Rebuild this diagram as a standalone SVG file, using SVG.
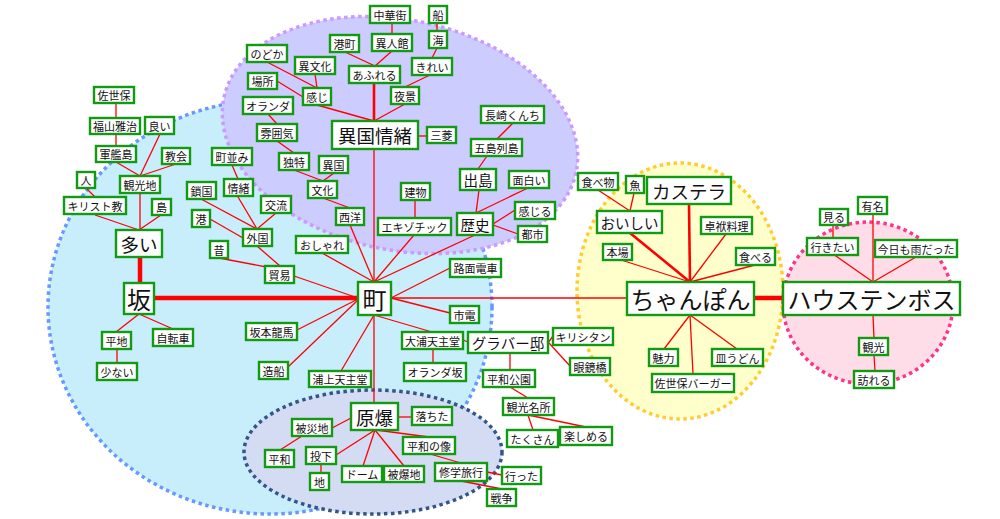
<svg xmlns="http://www.w3.org/2000/svg" width="1000" height="519" viewBox="0 0 1000 519">
<style>
.bg{stroke-width:3.5;stroke-dasharray:3.5 3.5}
.e{stroke:#ff0000;stroke-width:1.3;fill:none}
.e2{stroke:#ff0000;stroke-width:2.6;fill:none}
.e4{stroke:#ff0000;stroke-width:4.5;fill:none}
.b{fill:#ffffff;stroke:#129a12;stroke-width:2.4}
text{font-family:"Noto Sans CJK JP","Noto Sans",sans-serif;fill:#111;text-anchor:middle;dominant-baseline:central}
.s{font-size:11px}
.m1{font-size:14.5px}
.m2{font-size:18.5px}
.l{font-size:24px}
</style>
<rect width="1000" height="519" fill="#ffffff"/>
<g id="areas">
<ellipse cx="270" cy="307" rx="222" ry="207" fill="#c8eefc" stroke="#6699ff" class="bg"/>
<ellipse cx="400" cy="135" rx="180" ry="115" transform="rotate(12 400 135)" fill="#ccccff" stroke="#cc99ff" class="bg"/>
<ellipse cx="373" cy="452" rx="129" ry="62" fill="#d4dcf4" stroke="#335588" class="bg"/>
<ellipse cx="680" cy="291" rx="103" ry="128" fill="#ffffcc" stroke="#ffcc33" class="bg"/>
<ellipse cx="868" cy="303" rx="85" ry="81" fill="#ffdde8" stroke="#ff3388" class="bg"/>
</g>
<g id="connectors">
<line class="e4" x1="140" y1="257" x2="140" y2="283"/>
<line class="e4" x1="154" y1="298" x2="358" y2="298"/>
<line class="e4" x1="754" y1="298" x2="783" y2="298"/>
<line class="e2" x1="374" y1="83" x2="374" y2="121"/>
<line class="e2" x1="689" y1="204" x2="690" y2="282"/>
<line class="e2" x1="630" y1="233" x2="690" y2="282"/>
<line class="e" x1="116" y1="103" x2="116" y2="118"/>
<line class="e" x1="116" y1="134" x2="116" y2="146"/>
<line class="e" x1="116" y1="162" x2="140" y2="176"/>
<line class="e" x1="160" y1="134" x2="140" y2="176"/>
<line class="e" x1="176" y1="164" x2="140" y2="176"/>
<line class="e" x1="140" y1="193" x2="140" y2="230"/>
<line class="e" x1="86" y1="188" x2="95" y2="197"/>
<line class="e" x1="95" y1="215" x2="139" y2="230"/>
<line class="e" x1="161" y1="215" x2="139" y2="230"/>
<line class="e" x1="139" y1="314" x2="116" y2="332"/>
<line class="e" x1="139" y1="314" x2="173" y2="329"/>
<line class="e" x1="117" y1="349" x2="117" y2="363"/>
<line class="e" x1="201" y1="199" x2="257" y2="229"/>
<line class="e" x1="238" y1="197" x2="257" y2="229"/>
<line class="e" x1="232" y1="165" x2="238" y2="179"/>
<line class="e" x1="276" y1="213" x2="257" y2="229"/>
<line class="e" x1="210" y1="219" x2="243" y2="238"/>
<line class="e" x1="257" y1="246" x2="280" y2="266"/>
<line class="e" x1="219" y1="258" x2="272" y2="268"/>
<line class="e" x1="294" y1="276" x2="358" y2="298"/>
<line class="e" x1="392" y1="23" x2="392" y2="34"/>
<line class="e" x1="437" y1="23" x2="437" y2="31"/>
<line class="e" x1="345" y1="52" x2="375" y2="66"/>
<line class="e" x1="392" y1="51" x2="375" y2="66"/>
<line class="e" x1="437" y1="48" x2="432" y2="58"/>
<line class="e" x1="432" y1="74" x2="405" y2="87"/>
<line class="e" x1="267" y1="62" x2="317" y2="88"/>
<line class="e" x1="315" y1="74" x2="317" y2="88"/>
<line class="e" x1="277" y1="81" x2="303" y2="97"/>
<line class="e" x1="317" y1="105" x2="374" y2="121"/>
<line class="e" x1="405" y1="104" x2="374" y2="121"/>
<line class="e" x1="418" y1="136" x2="427" y2="136"/>
<line class="e" x1="268" y1="114" x2="277" y2="124"/>
<line class="e" x1="277" y1="141" x2="294" y2="153"/>
<line class="e" x1="294" y1="170" x2="323" y2="181"/>
<line class="e" x1="334" y1="173" x2="323" y2="181"/>
<line class="e" x1="323" y1="198" x2="350" y2="208"/>
<line class="e" x1="350" y1="225" x2="374" y2="282"/>
<line class="e" x1="322" y1="253" x2="374" y2="282"/>
<line class="e" x1="374" y1="149" x2="374" y2="282"/>
<line class="e" x1="415" y1="200" x2="415" y2="218"/>
<line class="e" x1="414" y1="235" x2="374" y2="282"/>
<line class="e" x1="475" y1="235" x2="374" y2="282"/>
<line class="e" x1="479" y1="190" x2="476" y2="213"/>
<line class="e" x1="487" y1="156" x2="478" y2="169"/>
<line class="e" x1="513" y1="123" x2="497" y2="139"/>
<line class="e" x1="530" y1="187" x2="476" y2="213"/>
<line class="e" x1="493" y1="224" x2="515" y2="210"/>
<line class="e" x1="493" y1="225" x2="518" y2="234"/>
<line class="e" x1="450" y1="268" x2="391" y2="298"/>
<line class="e" x1="450" y1="313" x2="391" y2="298"/>
<line class="e" x1="391" y1="298" x2="627" y2="298"/>
<line class="e" x1="297" y1="330" x2="358" y2="299"/>
<line class="e" x1="288" y1="367" x2="358" y2="300"/>
<line class="e" x1="341" y1="371" x2="374" y2="315"/>
<line class="e" x1="374" y1="315" x2="374" y2="403"/>
<line class="e" x1="374" y1="315" x2="432" y2="332"/>
<line class="e" x1="463" y1="340" x2="468" y2="342"/>
<line class="e" x1="433" y1="348" x2="433" y2="363"/>
<line class="e" x1="548" y1="343" x2="553" y2="336"/>
<line class="e" x1="549" y1="343" x2="570" y2="366"/>
<line class="e" x1="510" y1="353" x2="510" y2="370"/>
<line class="e" x1="510" y1="387" x2="528" y2="398"/>
<line class="e" x1="528" y1="415" x2="533" y2="430"/>
<line class="e" x1="528" y1="415" x2="586" y2="427"/>
<line class="e" x1="398" y1="417" x2="412" y2="417"/>
<line class="e" x1="353" y1="417" x2="332" y2="428"/>
<line class="e" x1="302" y1="436" x2="280" y2="450"/>
<line class="e" x1="375" y1="430" x2="336" y2="455"/>
<line class="e" x1="321" y1="463" x2="321" y2="473"/>
<line class="e" x1="375" y1="430" x2="363" y2="466"/>
<line class="e" x1="375" y1="430" x2="404" y2="466"/>
<line class="e" x1="376" y1="430" x2="429" y2="437"/>
<line class="e" x1="430" y1="454" x2="461" y2="463"/>
<line class="e" x1="487" y1="472" x2="502" y2="475"/>
<line class="e" x1="461" y1="481" x2="502" y2="489"/>
<line class="e" x1="598" y1="190" x2="630" y2="211"/>
<line class="e" x1="634" y1="193" x2="630" y2="211"/>
<line class="e" x1="726" y1="234" x2="690" y2="282"/>
<line class="e" x1="618" y1="259" x2="690" y2="282"/>
<line class="e" x1="755" y1="265" x2="690" y2="282"/>
<line class="e" x1="690" y1="315" x2="664" y2="349"/>
<line class="e" x1="690" y1="315" x2="693" y2="374"/>
<line class="e" x1="690" y1="315" x2="737" y2="349"/>
<line class="e" x1="833" y1="225" x2="833" y2="238"/>
<line class="e" x1="873" y1="214" x2="873" y2="282"/>
<line class="e" x1="833" y1="254" x2="873" y2="282"/>
<line class="e" x1="916" y1="257" x2="873" y2="282"/>
<line class="e" x1="873" y1="315" x2="874" y2="338"/>
<line class="e" x1="874" y1="355" x2="875" y2="371"/>
</g>
<g id="sasebo"><rect class="b" x="94" y="87" width="40" height="16"/><text class="s" x="114" y="95">佐世保</text></g>
<g id="fukuyama"><rect class="b" x="90" y="118" width="50" height="16"/><text class="s" x="115" y="126">福山雅治</text></g>
<g id="yoi"><rect class="b" x="145" y="117" width="29" height="17"/><text class="s" x="159.5" y="125.5">良い</text></g>
<g id="gunkanjima"><rect class="b" x="96" y="146" width="40" height="16"/><text class="s" x="116" y="154">軍艦島</text></g>
<g id="kyoukai"><rect class="b" x="162" y="148" width="28" height="16"/><text class="s" x="176" y="156">教会</text></g>
<g id="machinami"><rect class="b" x="212" y="148" width="40" height="17"/><text class="s" x="232" y="156.5">町並み</text></g>
<g id="hito"><rect class="b" x="77" y="172" width="18" height="16"/><text class="s" x="86" y="180">人</text></g>
<g id="kankouchi"><rect class="b" x="120" y="176" width="40" height="17"/><text class="s" x="140" y="184.5">観光地</text></g>
<g id="sakoku"><rect class="b" x="187" y="182" width="29" height="17"/><text class="s" x="201.5" y="190.5">鎖国</text></g>
<g id="jocho"><rect class="b" x="224" y="179" width="29" height="17"/><text class="s" x="238.5" y="187.5">情緒</text></g>
<g id="kouryu"><rect class="b" x="261" y="196" width="30" height="17"/><text class="s" x="276" y="204.5">交流</text></g>
<g id="kirisutokyo"><rect class="b" x="64" y="197" width="62" height="17"/><text class="s" x="95" y="205.5">キリスト教</text></g>
<g id="shima"><rect class="b" x="152" y="199" width="19" height="16"/><text class="s" x="161.5" y="207">島</text></g>
<g id="minato"><rect class="b" x="192" y="210" width="18" height="17"/><text class="s" x="201" y="218.5">港</text></g>
<g id="gaikoku"><rect class="b" x="243" y="229" width="29" height="17"/><text class="s" x="257.5" y="237.5">外国</text></g>
<g id="ooi"><rect class="b" x="116" y="230" width="46" height="27"/><text class="m2" x="139" y="243.5">多い</text></g>
<g id="mukashi"><rect class="b" x="210" y="241" width="18" height="17"/><text class="s" x="219" y="249.5">昔</text></g>
<g id="boueki"><rect class="b" x="265" y="266" width="29" height="17"/><text class="s" x="279.5" y="274.5">貿易</text></g>
<g id="saka"><rect class="b" x="124" y="283" width="30" height="31"/><text class="l" x="139" y="298.5">坂</text></g>
<g id="oshare"><rect class="b" x="296" y="236" width="52" height="17"/><text class="s" x="322" y="244.5">おしゃれ</text></g>
<g id="machi"><rect class="b" x="358" y="282" width="33" height="33"/><text class="l" x="374.5" y="298.5">町</text></g>
<g id="heichi"><rect class="b" x="102" y="332" width="29" height="17"/><text class="s" x="116.5" y="340.5">平地</text></g>
<g id="jitensha"><rect class="b" x="153" y="329" width="40" height="17"/><text class="s" x="173" y="337.5">自転車</text></g>
<g id="sukunai"><rect class="b" x="97" y="363" width="40" height="17"/><text class="s" x="117" y="371.5">少ない</text></g>
<g id="sakamoto"><rect class="b" x="246" y="323" width="51" height="17"/><text class="s" x="271.5" y="331.5">坂本龍馬</text></g>
<g id="zousen"><rect class="b" x="259" y="362" width="29" height="17"/><text class="s" x="273.5" y="370.5">造船</text></g>
<g id="urakami"><rect class="b" x="309" y="371" width="62" height="16"/><text class="s" x="340" y="379">浦上天主堂</text></g>
<g id="romendensha"><rect class="b" x="450" y="259" width="51" height="18"/><text class="s" x="475.5" y="268">路面電車</text></g>
<g id="shiden"><rect class="b" x="450" y="306" width="29" height="17"/><text class="s" x="464.5" y="314.5">市電</text></g>
<g id="oura"><rect class="b" x="402" y="332" width="61" height="17"/><text class="s" x="432.5" y="340.5">大浦天主堂</text></g>
<g id="orandazaka"><rect class="b" x="404" y="363" width="62" height="18"/><text class="s" x="435" y="372">オランダ坂</text></g>
<g id="glover"><rect class="b" x="468" y="332" width="80" height="21"/><text class="m1" x="508" y="342.5">グラバー邸</text></g>
<g id="kirishitan"><rect class="b" x="553" y="328" width="60" height="17"/><text class="s" x="583" y="336.5">キリシタン</text></g>
<g id="meganebashi"><rect class="b" x="570" y="358" width="40" height="17"/><text class="s" x="590" y="366.5">眼鏡橋</text></g>
<g id="heiwakoen"><rect class="b" x="483" y="370" width="52" height="17"/><text class="s" x="509" y="378.5">平和公園</text></g>
<g id="kankomeisho"><rect class="b" x="503" y="398" width="51" height="17"/><text class="s" x="528.5" y="406.5">観光名所</text></g>
<g id="takusan"><rect class="b" x="507" y="430" width="51" height="17"/><text class="s" x="532.5" y="438.5">たくさん</text></g>
<g id="tanoshimeru"><rect class="b" x="560" y="427" width="52" height="18"/><text class="s" x="586" y="436">楽しめる</text></g>
<g id="nodoka"><rect class="b" x="247" y="45" width="40" height="17"/><text class="s" x="267" y="53.5">のどか</text></g>
<g id="basho"><rect class="b" x="248" y="73" width="29" height="16"/><text class="s" x="262.5" y="81">場所</text></g>
<g id="oranda"><rect class="b" x="243" y="97" width="50" height="17"/><text class="s" x="268" y="105.5">オランダ</text></g>
<g id="funiki"><rect class="b" x="257" y="124" width="40" height="17"/><text class="s" x="277" y="132.5">雰囲気</text></g>
<g id="dokutoku"><rect class="b" x="279" y="153" width="30" height="17"/><text class="s" x="294" y="161.5">独特</text></g>
<g id="ikoku"><rect class="b" x="319" y="156" width="29" height="17"/><text class="s" x="333.5" y="164.5">異国</text></g>
<g id="bunka"><rect class="b" x="308" y="181" width="29" height="17"/><text class="s" x="322.5" y="189.5">文化</text></g>
<g id="seiyo"><rect class="b" x="336" y="208" width="28" height="17"/><text class="s" x="350" y="216.5">西洋</text></g>
<g id="chukagai"><rect class="b" x="370" y="6" width="40" height="17"/><text class="s" x="390" y="14.5">中華街</text></g>
<g id="fune"><rect class="b" x="429" y="6" width="18" height="17"/><text class="s" x="438" y="14.5">船</text></g>
<g id="minatomachi"><rect class="b" x="330" y="35" width="29" height="17"/><text class="s" x="344.5" y="43.5">港町</text></g>
<g id="ijinkan"><rect class="b" x="372" y="34" width="40" height="17"/><text class="s" x="392" y="42.5">異人館</text></g>
<g id="umi"><rect class="b" x="429" y="31" width="18" height="17"/><text class="s" x="438" y="39.5">海</text></g>
<g id="ibunka"><rect class="b" x="295" y="57" width="40" height="17"/><text class="s" x="315" y="65.5">異文化</text></g>
<g id="afureru"><rect class="b" x="349" y="66" width="51" height="17"/><text class="s" x="374.5" y="74.5">あふれる</text></g>
<g id="kirei"><rect class="b" x="412" y="58" width="40" height="17"/><text class="s" x="432" y="66.5">きれい</text></g>
<g id="kanji"><rect class="b" x="303" y="88" width="28" height="17"/><text class="s" x="317" y="96.5">感じ</text></g>
<g id="yakei"><rect class="b" x="391" y="87" width="28" height="17"/><text class="s" x="405" y="95.5">夜景</text></g>
<g id="ikokujocho"><rect class="b" x="332" y="121" width="86" height="28"/><text class="m2" x="375" y="135">異国情緒</text></g>
<g id="mitsubishi"><rect class="b" x="427" y="127" width="29" height="16"/><text class="s" x="441.5" y="135">三菱</text></g>
<g id="kunchi"><rect class="b" x="481" y="106" width="63" height="17"/><text class="s" x="512.5" y="114.5">長崎くんち</text></g>
<g id="goto"><rect class="b" x="471" y="139" width="51" height="17"/><text class="s" x="496.5" y="147.5">五島列島</text></g>
<g id="dejima"><rect class="b" x="460" y="169" width="36" height="21"/><text class="m1" x="478" y="179.5">出島</text></g>
<g id="omoshiroi"><rect class="b" x="509" y="171" width="40" height="17"/><text class="s" x="529" y="179.5">面白い</text></g>
<g id="tatemono"><rect class="b" x="401" y="183" width="29" height="17"/><text class="s" x="415.5" y="191.5">建物</text></g>
<g id="kanjiru"><rect class="b" x="515" y="202" width="40" height="17"/><text class="s" x="535" y="210.5">感じる</text></g>
<g id="rekishi"><rect class="b" x="457" y="213" width="36" height="22"/><text class="m1" x="475" y="224">歴史</text></g>
<g id="toshi"><rect class="b" x="518" y="226" width="29" height="16"/><text class="s" x="532.5" y="234">都市</text></g>
<g id="exotic"><rect class="b" x="378" y="218" width="73" height="17"/><text class="s" x="414.5" y="226.5">エキゾチック</text></g>
<g id="tabemono"><rect class="b" x="578" y="173" width="40" height="17"/><text class="s" x="598" y="181.5">食べ物</text></g>
<g id="sakana"><rect class="b" x="626" y="176" width="18" height="17"/><text class="s" x="635" y="184.5">魚</text></g>
<g id="castella"><rect class="b" x="647" y="177" width="84" height="27"/><text class="m2" x="689" y="190.5">カステラ</text></g>
<g id="oishii"><rect class="b" x="597" y="211" width="65" height="22"/><text class="m1" x="629.5" y="222">おいしい</text></g>
<g id="shippoku"><rect class="b" x="701" y="217" width="51" height="17"/><text class="s" x="726.5" y="225.5">卓袱料理</text></g>
<g id="honba"><rect class="b" x="603" y="244" width="29" height="16"/><text class="s" x="617.5" y="252">本場</text></g>
<g id="taberu"><rect class="b" x="736" y="248" width="39" height="17"/><text class="s" x="755.5" y="256.5">食べる</text></g>
<g id="champon"><rect class="b" x="627" y="282" width="127" height="33"/><text class="l" x="690.5" y="298.5">ちゃんぽん</text></g>
<g id="miryoku"><rect class="b" x="649" y="349" width="29" height="17"/><text class="s" x="663.5" y="357.5">魅力</text></g>
<g id="saraudon"><rect class="b" x="712" y="349" width="51" height="17"/><text class="s" x="737.5" y="357.5">皿うどん</text></g>
<g id="burger"><rect class="b" x="652" y="374" width="82" height="18"/><text class="s" x="693" y="383">佐世保バーガー</text></g>
<g id="miru"><rect class="b" x="820" y="209" width="28" height="16"/><text class="s" x="834" y="217">見る</text></g>
<g id="yumei"><rect class="b" x="858" y="197" width="29" height="17"/><text class="s" x="872.5" y="205.5">有名</text></g>
<g id="ikitai"><rect class="b" x="807" y="238" width="51" height="17"/><text class="s" x="832.5" y="246.5">行きたい</text></g>
<g id="kyoumo"><rect class="b" x="875" y="240" width="82" height="17"/><text class="s" x="916" y="248.5">今日も雨だった</text></g>
<g id="huistenbosch"><rect class="b" x="783" y="282" width="177" height="33"/><text class="l" x="871.5" y="298.5">ハウステンボス</text></g>
<g id="kanko"><rect class="b" x="859" y="338" width="29" height="17"/><text class="s" x="873.5" y="346.5">観光</text></g>
<g id="otozureru"><rect class="b" x="854" y="371" width="40" height="17"/><text class="s" x="874" y="379.5">訪れる</text></g>
<g id="genbaku"><rect class="b" x="351" y="403" width="47" height="27"/><text class="m2" x="374.5" y="416.5">原爆</text></g>
<g id="ochita"><rect class="b" x="412" y="407" width="40" height="18"/><text class="s" x="432" y="416">落ちた</text></g>
<g id="hisaichi"><rect class="b" x="292" y="419" width="40" height="17"/><text class="s" x="312" y="427.5">被災地</text></g>
<g id="heiwanozo"><rect class="b" x="403" y="437" width="52" height="17"/><text class="s" x="429" y="445.5">平和の像</text></g>
<g id="heiwa"><rect class="b" x="265" y="450" width="29" height="17"/><text class="s" x="279.5" y="458.5">平和</text></g>
<g id="touka"><rect class="b" x="306" y="447" width="30" height="17"/><text class="s" x="321" y="455.5">投下</text></g>
<g id="dome"><rect class="b" x="342" y="466" width="40" height="16"/><text class="s" x="362" y="474">ドーム</text></g>
<g id="hibakuchi"><rect class="b" x="384" y="466" width="40" height="16"/><text class="s" x="404" y="474">被爆地</text></g>
<g id="chi"><rect class="b" x="310" y="473" width="19" height="17"/><text class="s" x="319.5" y="481.5">地</text></g>
<g id="shugakuryoko"><rect class="b" x="435" y="463" width="52" height="18"/><text class="s" x="461" y="472">修学旅行</text></g>
<g id="itta"><rect class="b" x="502" y="467" width="39" height="17"/><text class="s" x="521.5" y="475.5">行った</text></g>
<g id="senso"><rect class="b" x="487" y="489" width="29" height="17"/><text class="s" x="501.5" y="497.5">戦争</text></g>
</svg>
